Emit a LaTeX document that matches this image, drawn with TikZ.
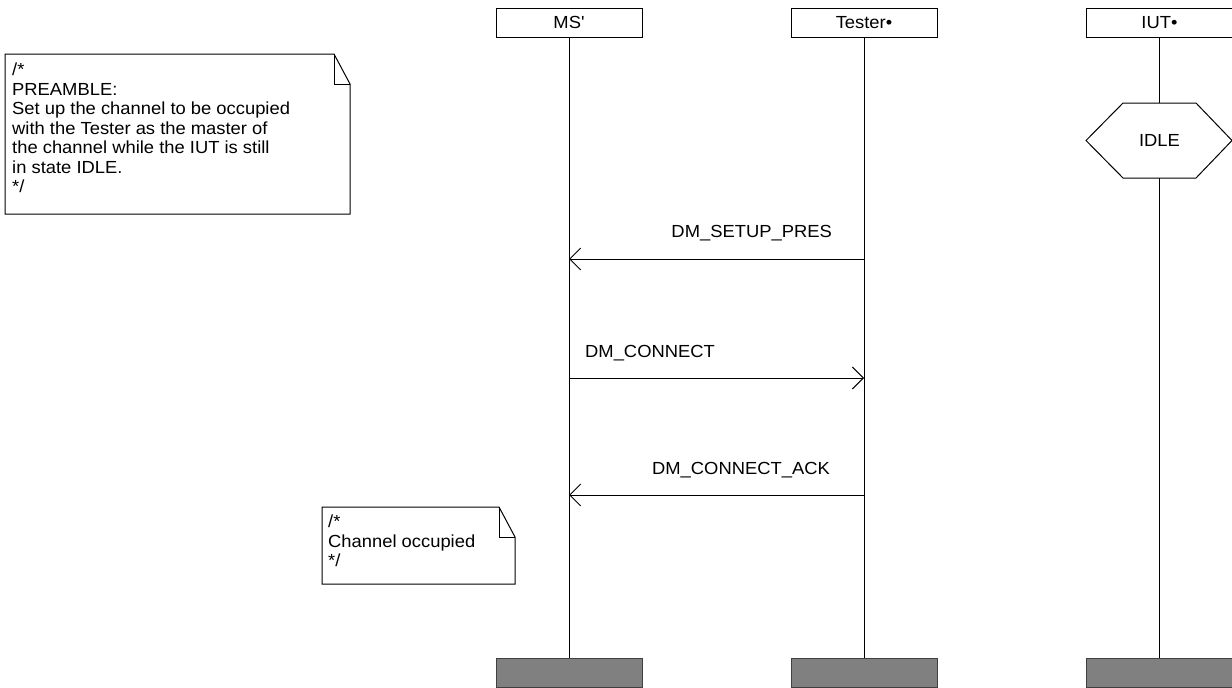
\documentclass[tikz,border=0pt]{standalone}
\usepackage{fontspec}
\setmainfont{Liberation Sans}[Ligatures=TeXOff,FakeStretch=1.05]
\usetikzlibrary{arrows.meta}
\begin{document}
\begin{tikzpicture}[x=1pt,y=-1pt,
  every node/.style={font=\fontsize{17.5}{19.5}\selectfont, inner sep=0pt},
  inst/.style={draw, line width=1pt, minimum width=146pt, minimum height=29pt},
  endbox/.style={draw=black!75, fill=black!50, line width=1pt, minimum width=146pt, minimum height=29pt},
  life/.style={line width=1pt},
  msg/.style={line width=1pt, -{Straight Barb[length=11pt,width=22pt,line width=1pt]}},
  notebox/.style={line width=1pt}
]
\useasboundingbox (0,0) rectangle (1232,688);

% instances
\node[inst] (ms) at (569,22.5) {MS'};
\node[inst] (tester) at (864,22.5) {Tester•};
\node[inst] (iut) at (1159.5,22.5) {IUT•};
\node[endbox] (msend) at (569,672.5) {};
\node[endbox] (testerend) at (864,672.5) {};
\node[endbox] (iutend) at (1159.5,672.5) {};

% IDLE condition (hexagon)
\node (idle) at (1159.5,140.5) {IDLE};
\coordinate (idleN) at (1159.5,103);
\coordinate (idleS) at (1159.5,178);
\draw[life] (1086,140.5) -- (1123,103) -- (1196,103) -- (1232,140.5) -- (1196,178) -- (1123,178) -- cycle;

% lifelines
\draw[life] (ms.south) -- (msend.north);
\draw[life] (tester.south) -- (testerend.north);
\draw[life] (iut.south) -- (idleN);
\draw[life] (idleS) -- (iutend.north);

% messages
\coordinate (m1s) at (864,259);
\coordinate (m1e) at (569,259);
\coordinate (m2s) at (569,378);
\coordinate (m2e) at (864,378);
\coordinate (m3s) at (864,495);
\coordinate (m3e) at (569,495);
\draw[msg] (m1s) -- (m1e);
\draw[msg] (m2s) -- (m2e);
\draw[msg] (m3s) -- (m3e);
\node[anchor=base east] (l1) at (832,237.5) {DM\_SETUP\_PRES};
\node[anchor=base west] (l2) at (585,357.5) {DM\_CONNECT};
\node[anchor=base east] (l3) at (830,474.5) {DM\_CONNECT\_ACK};

% note 1
\draw[notebox] (5,54) -- (334,54) -- (350,84) -- (350,214) -- (5,214) -- cycle;
\draw[notebox] (334,54) -- (334,84) -- (350,84);
\node[anchor=north west, align=left] (n1) at (12,63) {/*\\PREAMBLE:\\Set up the channel to be occupied\\with the Tester as the master of\\the channel while the IUT is still\\in state IDLE.\\*/};

% note 2
\draw[notebox] (322,507) -- (499,507) -- (515,537) -- (515,584) -- (322,584) -- cycle;
\draw[notebox] (499,507) -- (499,537) -- (515,537);
\node[anchor=north west, align=left] (n2) at (328,515) {/*\\Channel occupied\\*/};
\end{tikzpicture}
\end{document}
